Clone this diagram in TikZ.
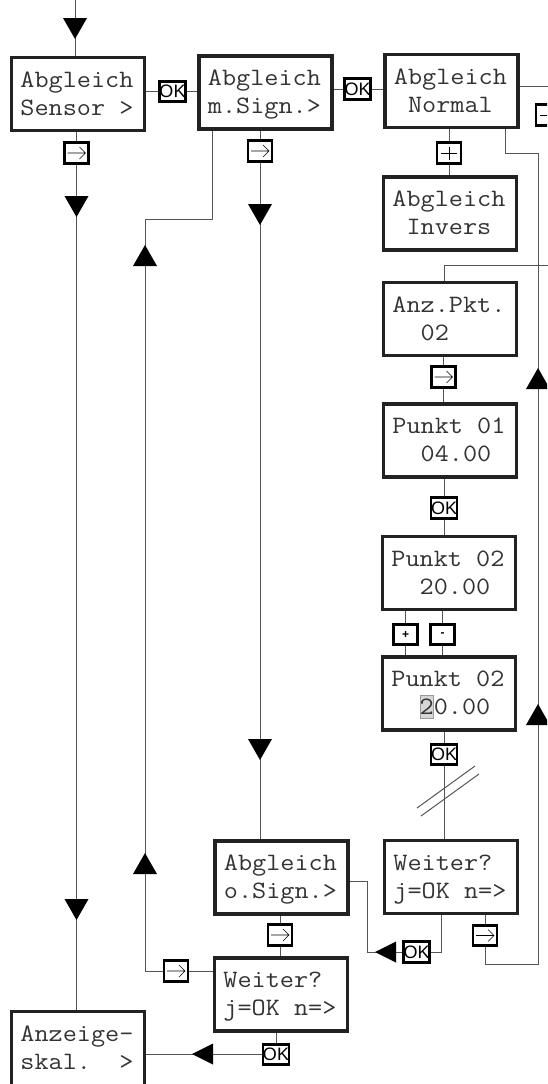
\documentclass[tikz,border=0pt]{standalone}
\usepackage{fontspec}
\newfontfamily\lcdfont{lmmono12-regular.otf}[FakeStretch=1.097]
\newfontfamily\keyfont{Liberation Sans}
\usetikzlibrary{calc,backgrounds}

\definecolor{boxcol}{HTML}{222222}
\definecolor{linecol}{HTML}{555555}
\definecolor{textcol}{HTML}{333333}
\definecolor{hlfill}{HTML}{D6D6D6}
\definecolor{hlline}{HTML}{9A9A9A}

% two display lines with a fixed line pitch, never broken
\newcommand\lcdstrut{\rule[-7pt]{0pt}{28pt}}
\newcommand\lcdsp{\hphantom{0}}
\newcommand\lcd[2]{\lcdstrut\mbox{#1}\\\lcdstrut\mbox{#2}}
% cursor cell on the display
\newcommand\hlchar[1]{\makebox[0pt][l]{\setlength\fboxsep{0pt}\setlength\fboxrule{0.6pt}%
  \fcolorbox{hlline}{hlfill}{\rule[-3.5pt]{0pt}{22pt}\hspace*{13.2pt}}}#1}

\tikzset{
  lcdbox/.style={draw=boxcol, line width=3.1pt, fill=white,
    minimum width=133pt, minimum height=73pt, text width=115.2pt,
    align=left, inner xsep=8.9pt, inner ysep=0pt, text=textcol,
    font=\lcdfont\fontsize{25}{28}\selectfont},
  key/.style={draw=black, line width=2.9pt, fill=white,
    minimum width=24pt, minimum height=20.5pt, inner sep=0pt},
  keyok/.style={key, font=\keyfont\fontsize{18}{18}\selectfont},
  keysmall/.style={key, font=\keyfont\bfseries\fontsize{12}{12}\selectfont},
  keyfwd/.style={key, path picture={
    \draw[line width=0.6pt] ($(path picture bounding box.center)+(-9,0)$)
      -- ++(18,0) ++(-6,-6) -- ++(6,6) -- ++(-6,6);}},
  keyplus/.style={key, path picture={
    \draw[line width=0.6pt] ($(path picture bounding box.center)+(-8,0)$) -- ++(16,0)
      ($(path picture bounding box.center)+(0,-6.5)$) -- ++(0,13);}},
  keyminus/.style={key, path picture={
    \draw[line width=0.6pt] ($(path picture bounding box.center)+(-8,0)$) -- ++(16,0);}},
  conn/.style={draw=linecol, line width=1pt},
  tdown/.pic={\fill[black] (-12,-21) -- (12,-21) -- (0,0) -- cycle;},
  tup/.pic={\fill[black] (-12,21) -- (12,21) -- (0,0) -- cycle;},
  tleft/.pic={\fill[black] (21,-10.5) -- (21,10.5) -- (0,0) -- cycle;},
}

\begin{document}
\begin{tikzpicture}[x=1pt,y=-1pt]
\useasboundingbox (0,0) rectangle (547,1084);
\clip (0,0) rectangle (547,1084);

% display states
\node[lcdbox] (b1)  at (78,94)      {\lcd{Abgleich}{Sensor\lcdsp>}};
\node[lcdbox] (b2)  at (265.5,92.5) {\lcd{Abgleich}{m.Sign.>}};
\node[lcdbox] (b3)  at (451.5,91)   {\lcd{Abgleich}{\lcdsp Normal}};
\node[lcdbox] (b4)  at (450,213.5)  {\lcd{Abgleich}{\lcdsp Invers}};
\node[lcdbox] (b5)  at (450,319)    {\lcd{Anz.Pkt.}{\lcdsp\lcdsp 02}};
\node[lcdbox] (b6)  at (450,440.5)  {\lcd{Punkt\lcdsp 01}{\lcdsp\lcdsp 04.00}};
\node[lcdbox] (b7)  at (449,573)    {\lcd{Punkt\lcdsp 02}{\lcdsp\lcdsp 20.00}};
\node[lcdbox] (b8)  at (449,693.5)  {\lcd{Punkt\lcdsp 02}{\lcdsp\lcdsp\hlchar{2}0.00}};
\node[lcdbox] (b9)  at (451,877)    {\lcd{Weiter?}{j=OK\lcdsp n=>}};
\node[lcdbox] (b10) at (281.5,877.5){\lcd{Abgleich}{o.Sign.>}};
\node[lcdbox] (b11) at (281,994.5)  {\lcd{Weiter?}{j=OK\lcdsp n=>}};
% last display runs past the lower edge
\node[lcdbox, minimum height=85pt] (b12) at (78,1054)
  {\lcd{Anzeige-}{skal.\lcdsp\lcdsp>\rule[-19pt]{0pt}{0pt}}};

% keys
\node[keyok]    (ok1)    at (172.5,91.5) {OK};
\node[keyok]    (ok2)    at (357.5,89)   {OK};
\node[keyfwd]   (fwd1)   at (76.5,153)   {};
\node[keyfwd]   (fwd2)   at (260,151)    {};
\node[keyplus]  (plus3)  at (449,153)    {};
\node[keyminus] (minus3) at (548,115)    {};
\node[keyfwd]   (fwd5)   at (443.5,377)  {};
\node[keyok]    (ok6)    at (444,508)    {OK};
\node[keysmall] (plus7)  at (405.5,634.5){+};
\node[keysmall] (minus7) at (442.5,634.5){-};
\node[keyok]    (ok8)    at (444,754.5)  {OK};
\node[keyfwd]   (fwd9)   at (485,935.5)  {};
\node[keyok]    (ok9)    at (416.5,952)  {OK};
\node[keyfwd]   (fwd10)  at (280,935)    {};
\node[keyfwd]   (fwd11)  at (176,971)    {};
\node[keyok]    (ok11)   at (276,1054.5) {OK};

% routing points
\coordinate (in)  at (75,0);
\coordinate (out3) at (560,86);
\coordinate (n3a) at (505,153);
\coordinate (rb)  at (538,964);
\coordinate (h5)  at (444,265);
\coordinate (h5e) at (560,265);
\coordinate (c9)  at (441,952);
\coordinate (c10) at (367,881);
\coordinate (l2a) at (212,219);
\coordinate (l2b) at (145,971);

\begin{pgfonlayer}{background}
  \draw[conn] (in) -- (in |- b1.north);
  \draw[conn] (b1.east |- ok1) -- (ok1) -- (b2.west |- ok1);
  \draw[conn] (b2.east |- ok2) -- (ok2) -- (b3.west |- ok2);
  \draw[conn] (b3.east |- out3) -- (out3);
  \draw[conn] (n3a |- b3.south) -- (n3a) -| (rb) -| (fwd9) -- (fwd9 |- b9.south);
  \draw[conn] (plus3 |- b3.south) -- (plus3 |- b4.north);
  \draw[conn] (h5 |- b5.north) -- (h5) -- (h5e);
  \draw[conn] (fwd5 |- b5.south) -- (fwd5 |- b6.north);
  \draw[conn] (ok6 |- b6.south) -- (ok6 |- b7.north);
  \draw[conn] (plus7 |- b7.south) -- (plus7 |- b8.north);
  \draw[conn] (minus7 |- b7.south) -- (minus7 |- b8.north);
  \draw[conn] (ok8 |- b8.south) -- (ok8 |- b9.north);
  \draw[conn] (417,808) -- (475,766) (421,816) -- (479,774);
  \draw[conn] (c9 |- b9.south) -- (c9) -- (ok9) -- (c10 |- ok9) -- (c10) -- (b10.east |- c10);
  \draw[conn] (fwd1 |- b1.south) -- (fwd1 |- b12.north);
  \draw[conn] (fwd2 |- b2.south) -- (fwd2 |- b10.north);
  \draw[conn] (l2a |- b2.south) -- (l2a) -| (l2b) -- (fwd11) -- (b11.west |- fwd11);
  \draw[conn] (fwd10 |- b10.south) -- (fwd10 |- b11.north);
  \draw[conn] (ok11 |- b11.south) -- (ok11) -- (b12.east |- ok11);
\end{pgfonlayer}

% flow direction marks
\pic at (75,39)    {tdown};
\pic at (76.5,217) {tdown};
\pic at (76.5,920) {tdown};
\pic at (260,225)  {tdown};
\pic at (260,760)  {tdown};
\pic at (145,245)  {tup};
\pic at (145,853)  {tup};
\pic at (538,368)  {tup};
\pic at (538,704)  {tup};
\pic at (375,952)  {tleft};
\pic at (192,1054) {tleft};
\end{tikzpicture}
\end{document}
